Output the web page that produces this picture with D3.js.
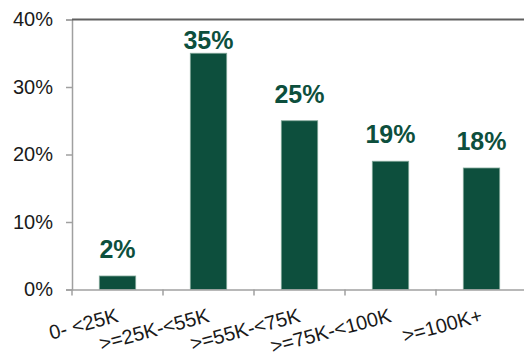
<!DOCTYPE html>
<html>
<head>
<meta charset="utf-8">
<script src="https://cdn.jsdelivr.net/npm/d3@7"></script>
<style>
  html, body { margin: 0; padding: 0; background: #fff; }
  svg { display: block; font-family: Arial, "Liberation Sans", sans-serif; }
</style>
</head>
<body>
<svg id="chart" width="524" height="357"></svg>
<script>
// Income brackets and their share of respondents
const categories = ["0- <25K", ">=25K-<55K", ">=55K-<75K", ">=75K-<100K", ">=100K+"];
const shares = [0.02, 0.35, 0.25, 0.19, 0.18];
const yTicks = [0, 0.1, 0.2, 0.3, 0.4];

const svg = d3.select("#chart");
const plotLeft = 72, plotTop = 19.5, plotBottom = 289.5, step = 91;
const green = "#0d4f3d";

const x = d3.scaleBand()
  .domain(categories)
  .range([plotLeft, plotLeft + step * categories.length])
  .paddingInner(0.6)
  .paddingOuter(0.3);

const y = d3.scaleLinear().domain([0, 0.4]).range([plotBottom, plotTop]);

// Y axis
const yAxis = svg.append("g")
  .attr("transform", `translate(${plotLeft},0)`)
  .call(d3.axisLeft(y).tickValues(yTicks).tickFormat(d3.format(".0%")).tickSize(6).tickPadding(13));
yAxis.select(".domain").attr("stroke", "#a0a0a0").attr("stroke-width", 1.5);
yAxis.selectAll(".tick line").attr("stroke", "#a0a0a0").attr("stroke-width", 1.5);
yAxis.selectAll(".tick text")
  .attr("font-size", 20).attr("fill", "#1a1a1a")
  .attr("font-family", "Arial, 'Liberation Sans', sans-serif");

// Top border line at the 40% level
svg.append("line")
  .attr("x1", plotLeft).attr("x2", 524)
  .attr("y1", y(0.4)).attr("y2", y(0.4))
  .attr("stroke", "#606060").attr("stroke-width", 2);

// Bars
svg.selectAll("rect.bar")
  .data(categories)
  .join("rect")
  .attr("class", "bar")
  .attr("x", (d) => x(d))
  .attr("width", x.bandwidth())
  .attr("y", (d, i) => y(shares[i]))
  .attr("height", (d, i) => y(0) - y(shares[i]))
  .attr("fill", green)
  .attr("stroke", "#7fa597")
  .attr("stroke-width", 0.8);

// Value labels, kept inside the plot area
svg.selectAll("text.val")
  .data(categories)
  .join("text")
  .attr("class", "val")
  .attr("x", (d) => x(d) + x.bandwidth() / 2)
  .attr("y", (d, i) => Math.max(y(shares[i]) - 18, plotTop + 29))
  .attr("text-anchor", "middle")
  .attr("font-size", 25)
  .attr("font-weight", "bold")
  .attr("fill", green)
  .text((d, i) => d3.format(".0%")(shares[i]));

// X axis baseline and boundary ticks
const xAxis = svg.append("g")
  .attr("transform", `translate(0,${plotBottom})`)
  .call(d3.axisBottom(x).tickSize(0).tickFormat(""));
xAxis.select(".domain").attr("stroke", "#a0a0a0").attr("stroke-width", 1.5);

svg.selectAll("line.btick")
  .data(categories)
  .join("line")
  .attr("class", "btick")
  .attr("x1", (d) => x(d) + x.bandwidth() / 2 - x.step() / 2)
  .attr("x2", (d) => x(d) + x.bandwidth() / 2 - x.step() / 2)
  .attr("y1", plotBottom)
  .attr("y2", plotBottom + 6)
  .attr("stroke", "#a0a0a0")
  .attr("stroke-width", 1.5);

// Rotated category labels
svg.selectAll("text.cat")
  .data(categories)
  .join("text")
  .attr("class", "cat")
  .attr("transform", (d) => `translate(${x(d) + x.bandwidth() / 2 + 2},${plotBottom + 32}) rotate(-15)`)
  .attr("text-anchor", "end")
  .attr("font-size", 20)
  .attr("fill", "#1a1a1a")
  .text((d) => d);
</script>
</body>
</html>
